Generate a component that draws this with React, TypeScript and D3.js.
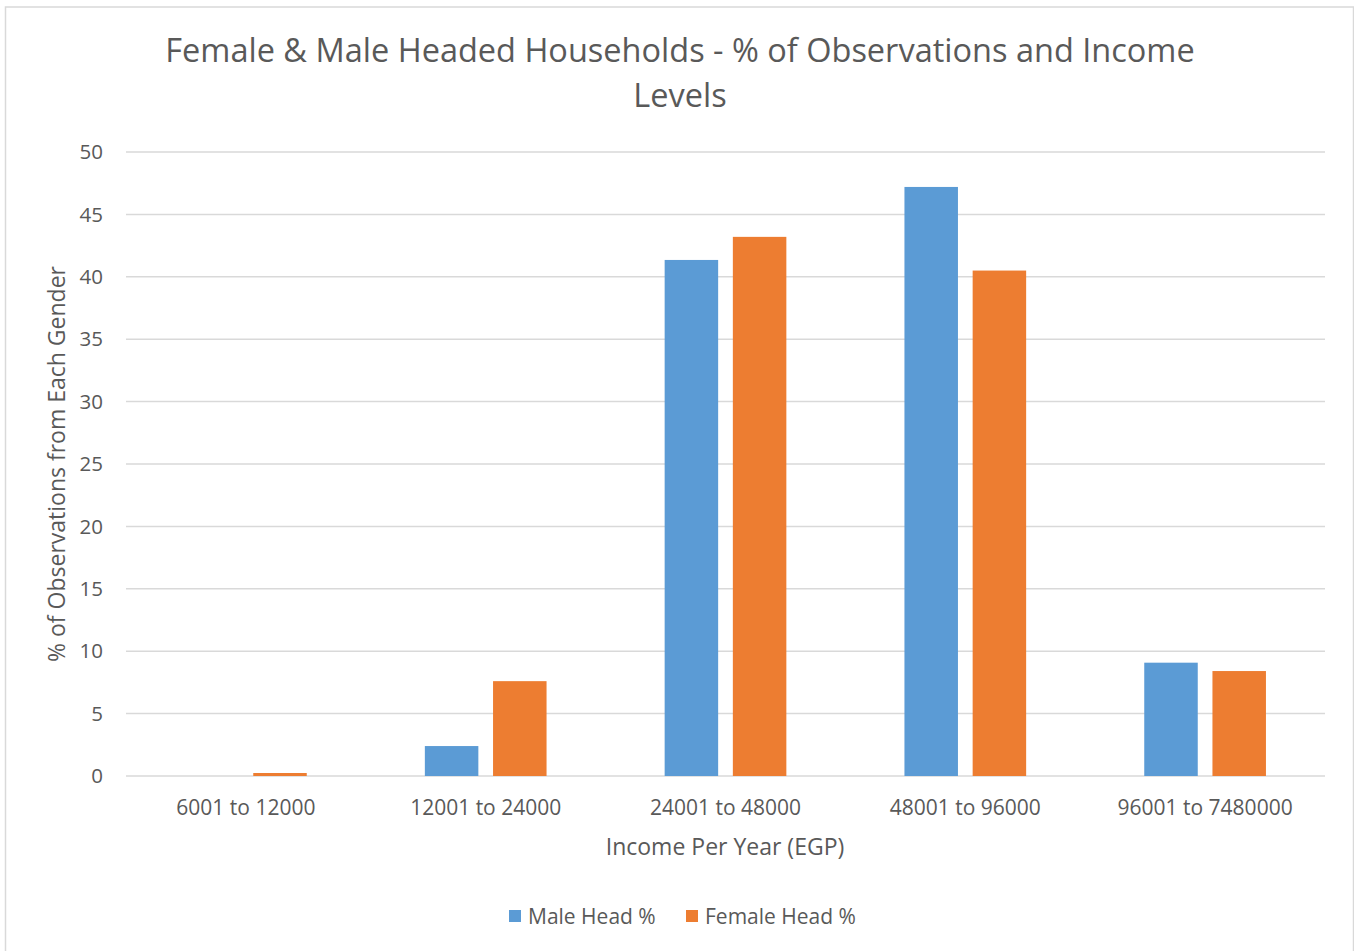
import React from "react";
import * as d3 from "d3";

const categories = [
  "6001 to 12000",
  "12001 to 24000",
  "24001 to 48000",
  "48001 to 96000",
  "96001 to 7480000",
];
const maleHead = [0, 2.4, 41.35, 47.2, 9.08];
const femaleHead = [0.24, 7.6, 43.2, 40.5, 8.41];
const seriesNames = ["Male Head %", "Female Head %"];
const seriesColors = ["#5B9BD5", "#ED7D31"];
const yTicks = [0, 5, 10, 15, 20, 25, 30, 35, 40, 45, 50];

const W = 1354;
const H = 951;
const plot = { left: 126, right: 1325, top: 152, bottom: 776 };
const FONT = "'Open Sans', 'DejaVu Sans', sans-serif";
const TEXT = "#595959";
const GRID = "#d9d9d9";

export default function App() {
  const x0 = d3
    .scaleBand<string>()
    .domain(categories)
    .range([plot.left, plot.right])
    .paddingInner(0)
    .paddingOuter(0);
  const groupW = 121.7;
  const x1 = d3
    .scaleBand<string>()
    .domain(seriesNames)
    .range([0, groupW])
    .paddingInner(0.2155)
    .paddingOuter(0);
  const y = d3.scaleLinear().domain([0, 50]).range([plot.bottom, plot.top]);

  const series = [maleHead, femaleHead];

  return (
    <svg
      width={W}
      height={H}
      style={{ position: "absolute", left: 0, top: 0, background: "#fff" }}
      fontFamily={FONT}
    >
      <rect x={0} y={0} width={W} height={H} fill="#fff" />
      <rect
        x={5.5}
        y={7}
        width={1348}
        height={960}
        fill="#fff"
        stroke={GRID}
        strokeWidth={1.5}
      />

      {/* title */}
      <text x={680} y={62} textAnchor="middle" fontSize={32.5} fill={TEXT}>
        Female &amp; Male Headed Households - % of Observations and Income
      </text>
      <text x={680} y={107} textAnchor="middle" fontSize={32.5} fill={TEXT}>
        Levels
      </text>

      {/* gridlines and y ticks */}
      {yTicks.map((t) => (
        <g key={t}>
          <line
            x1={plot.left}
            x2={plot.right}
            y1={y(t)}
            y2={y(t)}
            stroke={GRID}
            strokeWidth={1.5}
          />
          <text
            x={103}
            y={y(t)}
            dy="0.35em"
            textAnchor="end"
            fontSize={20.5}
            fill={TEXT}
          >
            {t}
          </text>
        </g>
      ))}

      {/* bars */}
      {categories.map((c, i) => {
        const gx = (x0(c) as number) + (x0.bandwidth() - groupW) / 2;
        return (
          <g key={c}>
            {series.map((vals, s) => {
              const v = vals[i];
              if (v <= 0) return null;
              return (
                <rect
                  key={s}
                  x={gx + (x1(seriesNames[s]) as number)}
                  y={y(v)}
                  width={x1.bandwidth()}
                  height={y(0) - y(v)}
                  fill={seriesColors[s]}
                />
              );
            })}
          </g>
        );
      })}

      {/* category labels */}
      {categories.map((c) => (
        <text
          key={c}
          x={(x0(c) as number) + x0.bandwidth() / 2}
          y={815}
          textAnchor="middle"
          fontSize={21}
          fill={TEXT}
        >
          {c}
        </text>
      ))}

      {/* axis titles */}
      <text x={725} y={855} textAnchor="middle" fontSize={23} fill={TEXT}>
        Income Per Year (EGP)
      </text>
      <text
        transform={`translate(65, ${(plot.top + plot.bottom) / 2}) rotate(-90)`}
        textAnchor="middle"
        fontSize={23}
        fill={TEXT}
      >
        % of Observations from Each Gender
      </text>

      {/* legend */}
      {seriesNames.map((n, s) => {
        const lx = s === 0 ? 509 : 686;
        return (
          <g key={n}>
            <rect x={lx} y={910} width={12} height={12} fill={seriesColors[s]} />
            <text x={lx + 19} y={924} fontSize={21} fill={TEXT}>
              {n}
            </text>
          </g>
        );
      })}
    </svg>
  );
}
